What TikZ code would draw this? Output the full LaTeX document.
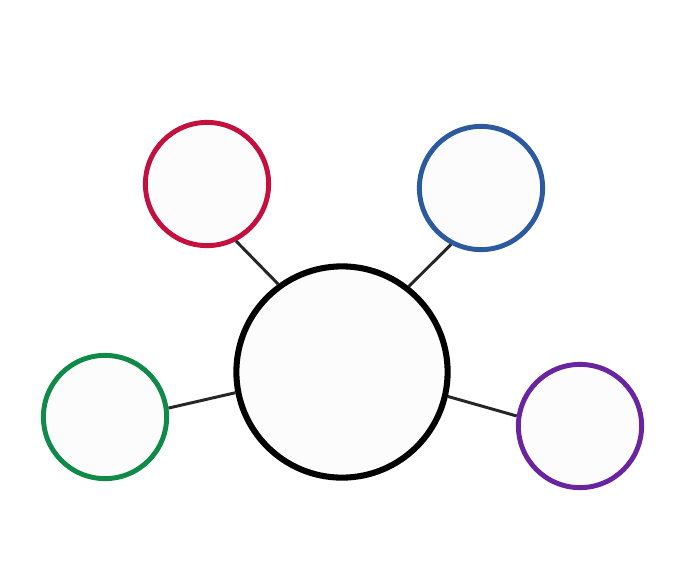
\documentclass[tikz,border=0pt]{standalone}
\usepackage{tikz}
\usetikzlibrary{calc}

\definecolor{leafred}{HTML}{C4103F}
\definecolor{leafblue}{HTML}{2B5A9E}
\definecolor{leafgreen}{HTML}{108A48}
\definecolor{leafpurple}{HTML}{6A24A0}

\tikzset{
    hub/.style={draw, circle, line width=4.3pt, minimum size=5.28cm, fill=black!1},
    leaf/.style={draw=#1, circle, line width=3.5pt, minimum size=3.08cm, fill=black!1},
    spoke/.style={line width=2.1pt, black!85}
}

\begin{document}
\begin{tikzpicture}[x=0.025cm, y=-0.025cm]

    \useasboundingbox (0,0) rectangle (692,581);

    \node (hub) [hub] at (342,372) {};

    \node (red) [leaf=leafred] at (207,184) {};
    \node (blue) [leaf=leafblue] at (481,188) {};
    \node (green) [leaf=leafgreen] at (105,417) {};
    \node (purple) [leaf=leafpurple] at (580,426) {};

    \foreach \leaf/\a/\b in {red/-63/126, blue/-118/52, green/8/191, purple/171/-13}
    \draw[spoke] (\leaf.\a) -- (hub.\b);

\end{tikzpicture}
\end{document}
